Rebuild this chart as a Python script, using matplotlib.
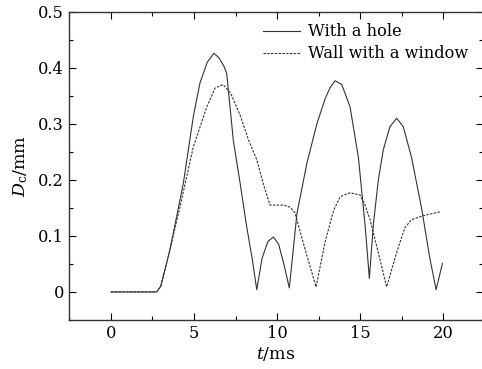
import matplotlib
matplotlib.use("Agg")
import matplotlib.pyplot as plt
from matplotlib.ticker import MultipleLocator

plt.rcParams['font.family'] = 'DejaVu Serif'
plt.rcParams['mathtext.fontset'] = 'dejavuserif'

# %% data
t_hole = [0, 2.75, 3.0, 3.55, 4.36, 4.96, 5.36, 5.8, 6.2, 6.5, 6.8, 6.97, 7.37, 7.8, 8.17, 8.5, 8.78,
          9.1, 9.45, 9.78, 10.1, 10.45, 10.74, 11.2, 11.8, 12.4, 12.9, 13.2, 13.5, 13.9, 14.4, 14.9,
          15.3, 15.56, 15.8, 16.1, 16.4, 16.8, 17.2, 17.6, 18.1, 18.7, 19.2, 19.58, 19.96]
d_hole = [0, 0, 0.01, 0.075, 0.194, 0.313, 0.373, 0.41, 0.426, 0.418, 0.403, 0.39, 0.27, 0.19, 0.117,
          0.06, 0.004, 0.06, 0.09, 0.098, 0.085, 0.045, 0.007, 0.14, 0.23, 0.30, 0.345, 0.365, 0.377,
          0.37, 0.33, 0.24, 0.12, 0.024, 0.12, 0.2, 0.254, 0.295, 0.31, 0.295, 0.24, 0.15, 0.06, 0.004, 0.051]

t_window = [0, 2.75, 3.0, 3.55, 4.16, 4.96, 5.77, 6.27, 6.75, 7.2, 7.77, 8.3, 8.78, 9.2, 9.58, 10.0,
            10.4, 10.8, 11.08, 11.7, 12.35, 12.9, 13.4, 13.8, 14.4, 15.0, 15.3, 15.6, 16.1, 16.6,
            17.2, 17.7, 18.1, 18.8, 19.8]
d_window = [0, 0, 0.01, 0.075, 0.152, 0.259, 0.33, 0.364, 0.37, 0.355, 0.316, 0.27, 0.236, 0.19, 0.155,
            0.155, 0.155, 0.151, 0.141, 0.075, 0.009, 0.09, 0.145, 0.17, 0.177, 0.173, 0.155, 0.129,
            0.07, 0.009, 0.07, 0.115, 0.129, 0.136, 0.143]

# %% plot
fig = plt.figure(figsize=(4.82, 3.69), dpi=100)
ax = fig.add_axes([0.143, 0.133, 0.859, 0.835])

ax.plot(t_hole, d_hole, color='#333333', lw=0.8, label='With a hole')
ax.plot(t_window, d_window, color='#333333', lw=0.8, ls=(0, (2.2, 1.2)), label='Wall with a window')

ax.set_xlim(-2.53, 22.4)
ax.set_ylim(-0.05, 0.5)
ax.xaxis.set_major_locator(MultipleLocator(5))
ax.xaxis.set_minor_locator(MultipleLocator(2.5))
ax.yaxis.set_major_locator(MultipleLocator(0.1))
ax.yaxis.set_minor_locator(MultipleLocator(0.05))
ax.set_yticks([0, 0.1, 0.2, 0.3, 0.4, 0.5])
ax.set_yticklabels(['0', '0.1', '0.2', '0.3', '0.4', '0.5'])
ax.tick_params(which='both', direction='in', top=True, right=True, labelsize=11.7, width=0.8)
ax.tick_params(which='major', length=5)
ax.tick_params(which='minor', length=3)
for s in ax.spines.values():
    s.set_linewidth(1.0)
    s.set_color('#333333')

ax.set_xlabel(r'$t$/ms', fontsize=12.5, labelpad=2)
ax.set_ylabel(r'$D_\mathrm{c}$/mm', fontsize=12.5, labelpad=6)

ax.legend(loc='upper right', bbox_to_anchor=(1.0, 1.01), frameon=False, fontsize=11.7,
          handlelength=2.3, handletextpad=0.5, labelspacing=0.3)

fig.savefig('out.png', dpi=100)
